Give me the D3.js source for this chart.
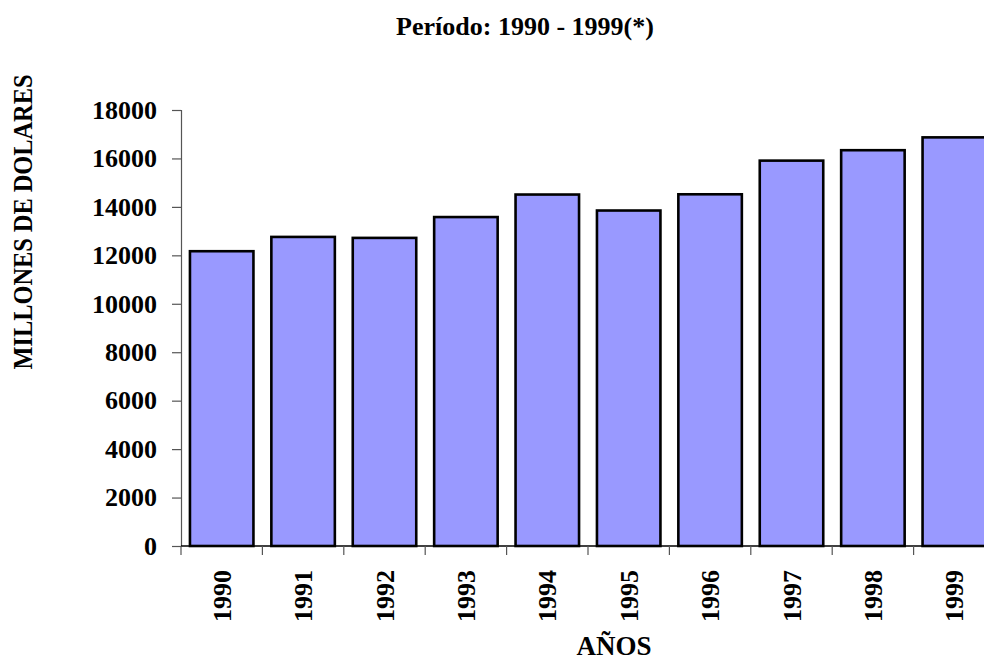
<!DOCTYPE html>
<html>
<head>
<meta charset="utf-8">
<script src="https://cdn.jsdelivr.net/npm/d3@7"></script>
<style>
  body { margin: 0; background: #fff; }
  text { font-family: "Liberation Serif", "Times New Roman", serif; font-weight: bold; fill: #000; }
</style>
</head>
<body>
<div class="chart"></div>
<script>
// data
var years = ["1990", "1991", "1992", "1993", "1994", "1995", "1996", "1997", "1998", "1999"];
var values = [12170, 12760, 12720, 13580, 14510, 13850, 14520, 15910, 16340, 16870];
var yTicks = [0, 2000, 4000, 6000, 8000, 10000, 12000, 14000, 16000, 18000];

var svgWidth = 984;
var svgHeight = 660;

// plot area runs off the right edge, like the original
var plot = { left: 181, right: 995, top: 110, bottom: 546 };

var svg = d3.select(".chart")
  .append("svg")
  .attr("width", svgWidth)
  .attr("height", svgHeight);

var xBand = d3.scaleBand()
  .domain(years)
  .range([plot.left, plot.right])
  .paddingInner(0.22)
  .paddingOuter(0.11);

var yLinearScale = d3.scaleLinear()
  .domain([0, 18000])
  .range([plot.bottom, plot.top]);

var step = xBand.step();

// bars
svg.append("g")
  .selectAll("rect")
  .data(values)
  .enter()
  .append("rect")
  .attr("x", function(d, i) { return xBand(years[i]); })
  .attr("y", function(d) { return yLinearScale(d); })
  .attr("width", xBand.bandwidth())
  .attr("height", function(d) { return yLinearScale(0) - yLinearScale(d); })
  .attr("fill", "#9999ff")
  .attr("stroke", "#000")
  .attr("stroke-width", 2.6);

// y axis
var leftAxis = d3.axisLeft(yLinearScale)
  .tickValues(yTicks)
  .tickSize(9)
  .tickPadding(15)
  .tickFormat(d3.format("d"));

var yAxis = svg.append("g")
  .attr("transform", "translate(" + plot.left + ",0)")
  .call(leftAxis);
yAxis.select(".domain").attr("stroke", "#555").attr("stroke-width", 1.2);
yAxis.selectAll(".tick line").attr("stroke", "#555").attr("stroke-width", 1.2);
yAxis.selectAll(".tick text")
  .style("font-family", "'Liberation Serif', serif")
  .style("font-weight", "bold")
  .style("font-size", "26px");

// x axis: line plus ticks on the category boundaries
svg.append("line")
  .attr("x1", plot.left)
  .attr("x2", svgWidth)
  .attr("y1", plot.bottom)
  .attr("y2", plot.bottom)
  .attr("stroke", "#000")
  .attr("stroke-width", 1.5);

svg.append("g")
  .selectAll("line")
  .data(years)
  .enter()
  .append("line")
  .attr("x1", function(d) { return xBand(d) - step * xBand.paddingInner() / 2; })
  .attr("x2", function(d) { return xBand(d) - step * xBand.paddingInner() / 2; })
  .attr("y1", plot.bottom)
  .attr("y2", plot.bottom + 9)
  .attr("stroke", "#555")
  .attr("stroke-width", 1.2);

// rotated year labels
svg.append("g")
  .selectAll("text")
  .data(years)
  .enter()
  .append("text")
  .attr("transform", function(d) {
    return "translate(" + (xBand(d) + xBand.bandwidth() / 2) + "," + (plot.bottom + 24) + ") rotate(-90)";
  })
  .attr("dy", "0.35em")
  .attr("text-anchor", "end")
  .style("font-size", "26px")
  .text(function(d) { return d; });

// titles
svg.append("text")
  .attr("x", 525)
  .attr("y", 35)
  .attr("text-anchor", "middle")
  .style("font-size", "26px")
  .text("Período: 1990 - 1999(*)");

svg.append("text")
  .attr("x", 614)
  .attr("y", 655)
  .attr("text-anchor", "middle")
  .style("font-size", "27px")
  .text("AÑOS");

svg.append("text")
  .attr("transform", "translate(32,222) rotate(-90)")
  .attr("text-anchor", "middle")
  .attr("textLength", 295)
  .attr("lengthAdjust", "spacingAndGlyphs")
  .style("font-size", "27px")
  .text("MILLONES DE DOLARES");
</script>
</body>
</html>
